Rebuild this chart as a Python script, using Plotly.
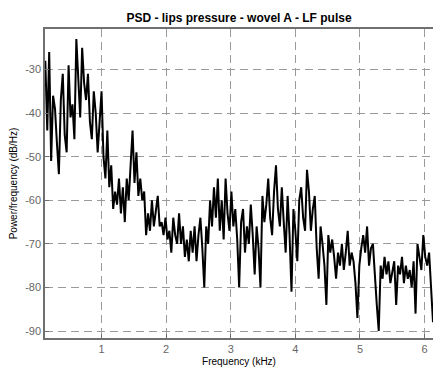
import plotly.graph_objects as go

# Frequency grid (kHz): uniform FFT bins
f_start = 0.13
f_step = 0.03

psd_db = [
    # 0.13 - 1.00
    -28, -44, -26, -51, -36, -39, -47, -54, -37, -31, -45, -49, -29, -41, -38,
    -46, -23, -34, -41, -25, -33, -37, -31, -42, -46, -35, -40, -49, -42, -35,
    # 1.03 - 1.48
    -50, -55, -44, -57, -52, -62, -58, -61, -55, -63, -57, -65, -55, -60, -52, -44,
    # 1.51 - 1.99
    -56, -49, -59, -55, -60, -58, -68, -63, -67, -60, -66, -63, -59, -66, -65, -68, -64,
    # 2.02 - 2.50
    -69, -67, -72, -64, -68, -70, -63, -70, -66, -73, -69, -74, -67, -72, -66, -74, -68,
    # 2.53 - 3.01
    -64, -71, -80, -66, -70, -60, -66, -57, -64, -55, -67, -60, -69, -55, -63, -67, -58,
    # 3.04 - 3.52
    -66, -62, -69, -80, -65, -62, -72, -66, -70, -61, -68, -77, -66, -71, -80, -59, -65,
    # 3.55 - 4.03
    -61, -55, -64, -68, -58, -52, -62, -66, -57, -65, -72, -59, -68, -81, -62, -67, -74,
    # 4.06 - 4.54
    -60, -57, -64, -67, -53, -58, -67, -62, -59, -71, -78, -66, -70, -75, -84, -68, -72,
    # 4.57 - 5.05
    -69, -73, -78, -72, -75, -70, -76, -72, -67, -75, -72, -74, -79, -87, -75, -71, -68,
    # 5.08 - 5.56
    -72, -66, -75, -71, -70, -78, -84, -90, -75, -78, -73, -77, -74, -79, -76, -74, -84,
    # 5.59 - 6.13
    -75, -77, -73, -79, -75, -78, -76, -80, -74, -86, -70, -73, -76, -68, -73, -75, -72, -80, -88,
]

freq_khz = [round(f_start + f_step * i, 4) for i in range(len(psd_db))]

x_ticks = [1, 2, 3, 4, 5, 6]
y_ticks = [-30, -40, -50, -60, -70, -80, -90]
y_tick_text = ["-30", "-40", "-50", "-60", "-70", "-80", "-90"]

fig = go.Figure()
fig.add_trace(go.Scatter(
    x=freq_khz, y=psd_db, mode="lines",
    line=dict(color="black", width=2),
    showlegend=False,
))

axis_font = dict(family="Liberation Sans, Arial, sans-serif", size=11, color="#666666")

fig.update_layout(
    width=433, height=367,
    margin=dict(l=45, r=0, t=29, b=29),
    paper_bgcolor="white", plot_bgcolor="white",
    title=dict(
        text="<b>PSD - lips pressure - wovel A - LF pulse</b>",
        x=239 / 433, xanchor="center", y=1 - 18 / 367, yanchor="middle",
        font=dict(family="Liberation Sans, Arial, sans-serif", size=12, color="black"),
    ),
    xaxis=dict(
        range=[0.125, 6.13], tickvals=x_ticks,
        showgrid=True, gridcolor="#9a9a9a", gridwidth=1, griddash="8px,5px",
        showline=True, linecolor="#707070", linewidth=1.5, mirror=True,
        ticks="inside", ticklen=4, tickcolor="#707070",
        tickfont=axis_font, zeroline=False,
        title=dict(text="Frequency (kHz)", standoff=4,
                   font=dict(family="Liberation Sans, Arial, sans-serif", size=10, color="black")),
    ),
    yaxis=dict(
        range=[-91.6, -20.7], tickvals=y_ticks, ticktext=y_tick_text,
        showgrid=True, gridcolor="#9a9a9a", gridwidth=1, griddash="8px,5px",
        showline=True, linecolor="#707070", linewidth=1.5,
        ticks="inside", ticklen=4, tickcolor="#707070",
        tickfont=axis_font, zeroline=False,
        title=dict(text="Power/frequency (dB/Hz)", standoff=6,
                   font=dict(family="Liberation Sans, Arial, sans-serif", size=10, color="black")),
    ),
)

fig.write_html("out.html")
